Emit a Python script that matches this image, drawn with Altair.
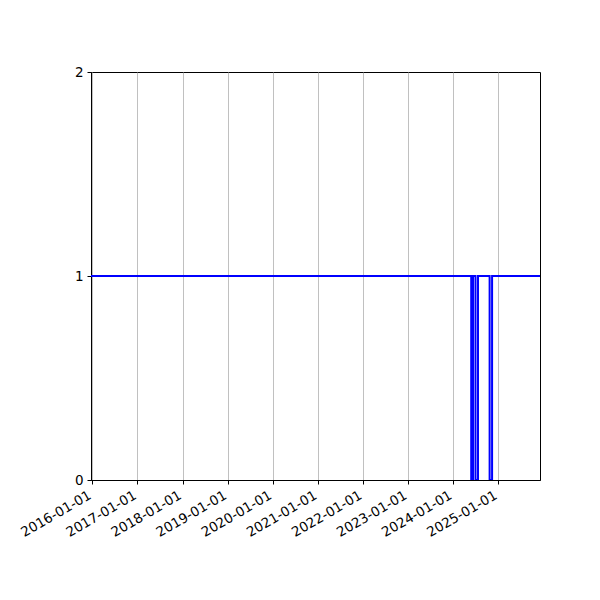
import altair as alt
import pandas as pd

# change points of the step series (date, value)
dates = ["2015-12-22", "2024-05-27", "2024-06-11", "2024-07-01", "2024-07-21",
         "2024-10-23", "2024-11-12", "2025-12-05"]
values = [1, 0, 1, 0, 1, 0, 1, 1]

tick_years = [2016, 2017, 2018, 2019, 2020, 2021, 2022, 2023, 2024, 2025]
y_ticks = [0, 1, 2]

df = pd.DataFrame({"date": dates, "value": values})

x_axis = alt.Axis(
    values=[alt.DateTime(year=y, month=1, date=1, utc=True) for y in tick_years],
    format="%Y-%m-%d",
    labelAngle=-30,
    labelAlign="right",
    labelBaseline="top",
    labelOverlap=False,
    labelFlush=False,
    labelOffset=-6,
    labelPadding=4,
    grid=True,
    title=None,
)
y_axis = alt.Axis(values=[float(v) for v in y_ticks], grid=False, title=None,
                  labelExpr="format(datum.value, 'd')",
                  labelOverlap=False, labelFlush=False, labelPadding=4)

chart = alt.Chart(df).mark_line(
    interpolate="step-after", color="#0000ff", strokeWidth=2, clip=True
).encode(
    x=alt.X("date:T", axis=x_axis,
            scale=alt.Scale(type="utc", domain=[
                alt.DateTime(year=2015, month=12, date=22, utc=True),
                alt.DateTime(year=2025, month=12, date=5, utc=True)])),
    y=alt.Y("value:Q", axis=y_axis, scale=alt.Scale(domain=[0, 2], nice=False, zero=False)),
).properties(
    width=449, height=408,
    autosize=alt.AutoSizeParams(type="none"),
    padding={"left": 83, "top": 64, "right": 52, "bottom": 112},
).configure_axis(
    domainColor="black", tickColor="black", labelColor="black",
    labelFont="DejaVu Sans", labelFontSize=13.5, tickSize=4,
    gridColor="#b0b0b0", gridWidth=0.8, domainWidth=1,
).configure_view(stroke="black", strokeWidth=1)

chart.save("out.html", embed_options={"renderer": "svg", "actions": False})
